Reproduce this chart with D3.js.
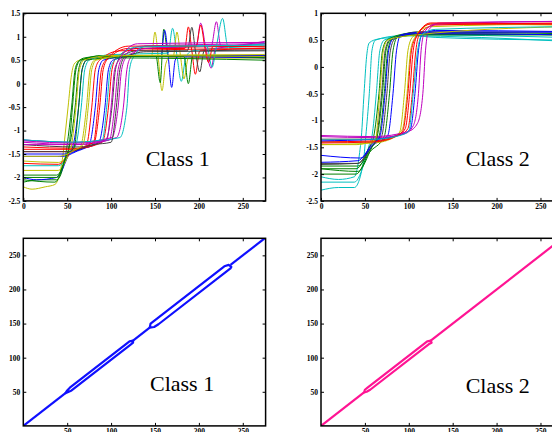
<!DOCTYPE html>
<html>
<head>
<meta charset="utf-8">
<script src="https://cdn.jsdelivr.net/npm/d3@7"></script>
<style>
  body { margin: 0; background: #fff; }
  svg { display: block; }
</style>
</head>
<body>
<script>
// tick values
var seriesTicksX = [0, 50, 100, 150, 200, 250];
var class1TicksY = [-2.5, -2, -1.5, -1, -0.5, 0, 0.5, 1, 1.5];
var class2TicksY = [-2.5, -2, -1.5, -1, -0.5, 0, 0.5, 1];
var pathTicks = [50, 100, 150, 200, 250];

var serif = "'Liberation Serif', 'Times New Roman', 'DejaVu Serif', serif";

// old matlab line colours
var colorMap = { b: "#0000ff", g: "#008000", r: "#ff0000", c: "#00bfbf", m: "#bf00bf", y: "#bfbf00", k: "#404040" };

// class 1 series, key points
var class1Colors = ["y", "g", "g", "b", "c", "y", "r", "b", "r", "b", "r", "k", "m", "m", "m", "c", "g", "y", "r", "c", "g", "k", "y", "m"];
var class1Series = [
  [[0,-2.2],[10,-2.25],[25,-2.2],[36,-2.15],[45,-1.55],[47,-1.2],[51,-0.5],[55,0.2],[58,0.42],[64,0.5],[80,0.55],[130,0.58],[146,0.58],[150,1.1],[154,0.5],[158,-0.15],[162,0.4],[166,0.55],[275,0.55]],
  [[0,-2.1],[20,-2.05],[38,-2.05],[48,-1.55],[50,-1.3],[55,-0.5],[59,0.3],[63,0.48],[70,0.55],[100,0.6],[151,0.6],[156,0.02],[160,1.16],[165,0.6],[275,0.58]],
  [[0,-1.95],[38,-1.95],[50,-1.5],[53,-1.3],[59,-0.5],[63,0.3],[67,0.5],[90,0.6],[275,0.6]],
  [[0,-2.0],[15,-2.05],[38,-2.0],[52,-1.5],[57,-1.3],[63,-0.5],[67,0.3],[72,0.5],[90,0.58],[157,0.6],[161,1.14],[165,0.6],[169,-0.08],[173,0.5],[177,0.6],[275,0.57]],
  [[0,-1.75],[40,-1.75],[54,-1.45],[60,-1.3],[66,-0.5],[70,0.3],[75,0.5],[100,0.62],[165,0.65],[170,1.18],[175,0.6],[180,0.05],[185,0.55],[192,0.7],[275,0.8]],
  [[0,-1.85],[40,-1.85],[55,-1.45],[65,-1.35],[72,-0.5],[76,0.3],[81,0.5],[100,0.58],[171,0.6],[175,1.1],[179,0.6],[183,0.1],[188,0.55],[275,0.55]],
  [[0,-1.45],[50,-1.45],[70,-1.35],[73,-1.25],[78,-0.5],[82,0.3],[87,0.5],[110,0.7],[275,0.75]],
  [[0,-1.55],[45,-1.55],[60,-1.45],[75,-1.3],[82,-0.5],[86,0.3],[91,0.5],[120,0.58],[275,0.55]],
  [[0,-1.7],[40,-1.72],[55,-1.45],[80,-1.3],[87,-0.5],[91,0.3],[96,0.52],[120,0.75],[184,0.75],[188,1.21],[192,0.7],[196,0.2],[201,0.7],[275,0.75]],
  [[0,-1.5],[48,-1.5],[65,-1.4],[86,-1.25],[93,-0.5],[97,0.3],[102,0.5],[130,0.6],[275,0.6]],
  [[0,-1.35],[60,-1.38],[90,-1.25],[97,-0.5],[101,0.3],[106,0.55],[130,0.75],[275,0.8]],
  [[0,-1.3],[60,-1.35],[94,-1.2],[101,-0.5],[105,0.3],[110,0.55],[130,0.7],[187,0.7],[192,1.2],[196,0.7],[201,0.25],[206,0.7],[275,0.72]],
  [[0,-1.25],[60,-1.3],[98,-1.2],[104,-0.5],[108,0.3],[113,0.55],[135,0.8],[275,0.85]],
  [[0,-1.2],[60,-1.25],[101,-1.15],[108,-0.5],[112,0.3],[117,0.55],[140,0.75],[197,0.8],[202,1.29],[208,0.75],[214,0.33],[219,0.75],[275,0.85]],
  [[0,-1.3],[60,-1.3],[106,-1.15],[114,-0.5],[118,0.3],[122,0.55],[140,0.8],[214,0.8],[220,1.32],[225,0.8],[275,0.9]],
  [[0,-1.2],[60,-1.25],[110,-1.15],[118,-0.5],[121,0.3],[125,0.55],[140,0.8],[209,0.8],[215,0.35],[220,0.8],[227,1.39],[233,0.8],[275,0.85]],
  [[0,-2.05],[36,-2.1],[48,-1.6],[52,-1.35],[56,-0.5],[60,0.3],[65,0.5],[90,0.58],[183,0.58],[188,0.0],[193,0.6],[275,0.55]],
  [[0,-1.65],[40,-1.68],[52,-1.45],[55,-1.3],[60,-0.5],[64,0.3],[69,0.5],[100,0.6],[275,0.62]],
  [[0,-1.4],[55,-1.4],[80,-1.25],[85,-0.5],[89,0.3],[94,0.5],[120,0.8],[197,0.8],[202,1.25],[207,0.75],[211,0.45],[216,0.8],[275,0.78]],
  [[0,-1.2],[55,-1.25],[90,-1.2],[95,-0.5],[99,0.3],[104,0.5],[130,0.78],[275,0.82]],
  [[0,-2.0],[38,-2.0],[50,-1.5],[58,-1.35],[63,-0.5],[67,0.3],[72,0.5],[100,0.55],[275,0.5]],
  [[0,-1.45],[50,-1.45],[80,-1.3],[100,-1.25],[106,-0.5],[110,0.3],[115,0.55],[140,0.68],[275,0.7]],
  [[0,-1.55],[40,-1.55],[60,-1.4],[68,-1.3],[74,-0.5],[78,0.3],[83,0.5],[120,0.6],[275,0.58]],
  [[0,-1.22],[60,-1.27],[95,-1.2],[100,-0.5],[104,0.3],[109,0.5],[130,0.85],[275,0.88]]
];

// class 2 series
var class2Colors = ["c", "c", "c", "g", "k", "g", "k", "g", "b", "y", "y", "r", "r", "b", "m", "m", "g", "b", "y", "r", "c"];
var class2Series = [
  [[0,-2.05],[20,-2.1],[38,-2.05],[44,-1.6],[46,-1.3],[49,-0.5],[52,0.2],[55,0.45],[65,0.52],[80,0.55],[95,0.6],[130,0.55],[275,0.5]],
  [[0,-2.3],[20,-2.25],[38,-2.25],[48,-1.8],[51,-1.3],[55,-0.5],[58,0.3],[62,0.5],[90,0.58],[275,0.48]],
  [[0,-2.15],[38,-2.15],[50,-1.75],[55,-1.45],[58,-1.3],[63,-0.5],[67,0.3],[72,0.5],[100,0.6],[275,0.55]],
  [[0,-1.9],[40,-1.9],[55,-1.5],[60,-1.3],[66,-0.5],[70,0.3],[75,0.5],[100,0.62],[275,0.6]],
  [[0,-1.8],[42,-1.8],[57,-1.45],[63,-1.3],[69,-0.5],[73,0.3],[78,0.5],[110,0.62],[275,0.6]],
  [[0,-1.85],[42,-1.85],[58,-1.48],[66,-1.3],[72,-0.5],[76,0.3],[81,0.52],[110,0.65],[275,0.62]],
  [[0,-1.82],[42,-1.8],[60,-1.45],[69,-1.3],[75,-0.5],[79,0.3],[84,0.52],[110,0.65],[275,0.65]],
  [[0,-2.0],[40,-2.0],[55,-1.6],[72,-1.3],[78,-0.5],[82,0.3],[87,0.55],[110,0.6],[275,0.6]],
  [[0,-1.65],[45,-1.7],[60,-1.45],[76,-1.28],[82,-0.5],[86,0.3],[91,0.6],[120,0.65],[275,0.65]],
  [[0,-1.45],[60,-1.42],[85,-1.3],[90,-1.2],[95,-0.5],[99,0.3],[104,0.55],[125,0.75],[275,0.8]],
  [[0,-1.4],[60,-1.4],[88,-1.25],[93,-1.15],[98,-0.5],[102,0.3],[107,0.55],[125,0.8],[275,0.78]],
  [[0,-1.4],[60,-1.38],[90,-1.25],[96,-1.15],[101,-0.5],[105,0.3],[110,0.6],[125,0.8],[275,0.8]],
  [[0,-1.35],[60,-1.35],[92,-1.25],[99,-1.15],[104,-0.5],[108,0.3],[112,0.6],[130,0.78],[275,0.82]],
  [[0,-1.38],[60,-1.35],[94,-1.25],[102,-1.15],[107,-0.5],[111,0.3],[115,0.6],[130,0.68],[275,0.66]],
  [[0,-1.3],[60,-1.32],[95,-1.25],[105,-1.1],[111,-0.5],[114,0.3],[118,0.65],[130,0.8],[275,0.85]],
  [[0,-1.28],[60,-1.3],[100,-1.2],[110,-1.05],[116,-0.5],[119,0.3],[123,0.7],[135,0.82],[275,0.85]],
  [[0,-1.9],[42,-1.95],[58,-1.5],[64,-1.3],[70,-0.5],[74,0.3],[79,0.5],[110,0.6],[275,0.6]],
  [[0,-1.78],[42,-1.75],[58,-1.45],[67,-1.3],[73,-0.5],[77,0.3],[82,0.52],[110,0.62],[275,0.6]],
  [[0,-1.45],[40,-1.45],[56,-1.4],[62,-1.35],[67,-0.5],[71,0.3],[76,0.5],[110,0.6],[275,0.75]],
  [[0,-1.42],[60,-1.4],[85,-1.3],[93,-1.2],[99,-0.5],[103,0.3],[108,0.55],[125,0.82],[275,0.8]],
  [[0,-1.35],[60,-1.35],[85,-1.3],[100,-1.2],[105,-0.5],[110,0.3],[115,0.6],[130,0.7],[275,0.75]]
];

// warping paths: straight runs and closed loops
var class1PathLines = [[[0,0],[48,48]], [[125,125],[144,144]], [[236,236],[276,276]]];
var class1PathLoops = [
  [[48,48],[50,52],[53,56],[121,124],[125,125],[125,122],[123,120],[55,52]],
  [[144,144],[145,150],[149,154],[229,234],[234,236],[237,233],[236,231],[154,149],[149,145]]
];
var class2PathLines = [[[0,0],[49,49]], [[125,125],[276,276]]];
var class2PathLoops = [
  [[49,49],[50,53],[53,56],[121,124],[125,125],[126,122],[123,120],[56,53],[52,50]]
];

var W = 552, H = 432;
var svg = d3.select("body").append("svg").attr("width", W).attr("height", H);

var panelW = 242.3, panelH = 187.6;

function styleTicks(sel) {
  sel.selectAll("text")
    .style("font-family", serif).style("font-weight", "bold").style("font-size", "7.5px").attr("fill", "#000");
  sel.selectAll("line").attr("stroke", "#000");
}

function frame(g, x, y, xTicks, yTicks) {
  var fmt = function(d) { return String(d); };
  g.append("g").attr("transform", "translate(0," + panelH + ")")
    .call(d3.axisBottom(x).tickValues(xTicks).tickSizeInner(-3).tickSizeOuter(0).tickPadding(2.5).tickFormat(fmt))
    .call(styleTicks);
  g.append("g")
    .call(d3.axisTop(x).tickValues(xTicks).tickSizeInner(-3).tickSizeOuter(0).tickFormat(""))
    .call(styleTicks);
  g.append("g")
    .call(d3.axisLeft(y).tickValues(yTicks).tickSizeInner(-3).tickSizeOuter(0).tickPadding(3).tickFormat(fmt))
    .call(styleTicks);
  g.append("g").attr("transform", "translate(" + panelW + ",0)")
    .call(d3.axisRight(y).tickValues(yTicks).tickSizeInner(-3).tickSizeOuter(0).tickFormat(""))
    .call(styleTicks);
  g.selectAll(".domain").remove();
  g.append("rect").attr("width", panelW).attr("height", panelH)
    .attr("fill", "none").attr("stroke", "#000").attr("stroke-width", 1.5);
}

function addLabel(g, label) {
  g.append("text").attr("x", label[1]).attr("y", label[2])
    .style("font-family", serif).style("font-size", "22px").attr("fill", "#000")
    .text(label[0]);
}

function seriesPanel(id, left, top, yDomain, yTicks, series, colors, label) {
  var g = svg.append("g").attr("transform", "translate(" + left + "," + top + ")");
  var x = d3.scaleLinear().domain([0, 276]).range([0, panelW]);
  var y = d3.scaleLinear().domain(yDomain).range([panelH, 0]);
  g.append("clipPath").attr("id", id).append("rect").attr("width", panelW).attr("height", panelH);
  var line = d3.line().x(function(d) { return x(d[0]); }).y(function(d) { return y(d[1]); })
    .curve(d3.curveMonotoneX);
  g.append("g").attr("clip-path", "url(#" + id + ")")
    .selectAll("path").data(series).join("path")
    .attr("d", line)
    .attr("fill", "none")
    .attr("stroke", function(d, i) { return colorMap[colors[i]]; })
    .attr("stroke-width", 1)
    .attr("stroke-linejoin", "round");
  frame(g, x, y, seriesTicksX, yTicks);
  addLabel(g, label);
}

function pathPanel(id, left, top, lines, loops, color, label) {
  var g = svg.append("g").attr("transform", "translate(" + left + "," + top + ")");
  var x = d3.scaleLinear().domain([0, 276]).range([0, panelW]);
  var y = d3.scaleLinear().domain([0, 275]).range([panelH, 0]);
  g.append("clipPath").attr("id", id).append("rect").attr("width", panelW).attr("height", panelH);
  var line = d3.line().x(function(d) { return x(d[0]); }).y(function(d) { return y(d[1]); });
  var closed = d3.line().x(function(d) { return x(d[0]); }).y(function(d) { return y(d[1]); }).curve(d3.curveLinearClosed);
  var cg = g.append("g").attr("clip-path", "url(#" + id + ")");
  cg.selectAll("path.run").data(lines).join("path").attr("class", "run")
    .attr("d", line).attr("fill", "none").attr("stroke", color).attr("stroke-width", 2.2);
  cg.selectAll("path.loop").data(loops).join("path").attr("class", "loop")
    .attr("d", closed).attr("fill", "none").attr("stroke", color).attr("stroke-width", 2.2)
    .attr("stroke-linejoin", "round");
  frame(g, x, y, pathTicks, pathTicks);
  addLabel(g, label);
}

seriesPanel("c1", 23.3, 13.3, [-2.5, 1.5], class1TicksY, class1Series, class1Colors, ["Class 1", 122.4, 152.4]);
seriesPanel("c2", 321, 13.3, [-2.5, 1], class2TicksY, class2Series, class2Colors, ["Class 2", 144.7, 152.4]);
pathPanel("p1", 23.3, 238.3, class1PathLines, class1PathLoops, "#1010ff", ["Class 1", 126.7, 152.7]);
pathPanel("p2", 321, 238.3, class2PathLines, class2PathLoops, "#ff1493", ["Class 2", 144.7, 154.7]);
</script>
</body>
</html>
